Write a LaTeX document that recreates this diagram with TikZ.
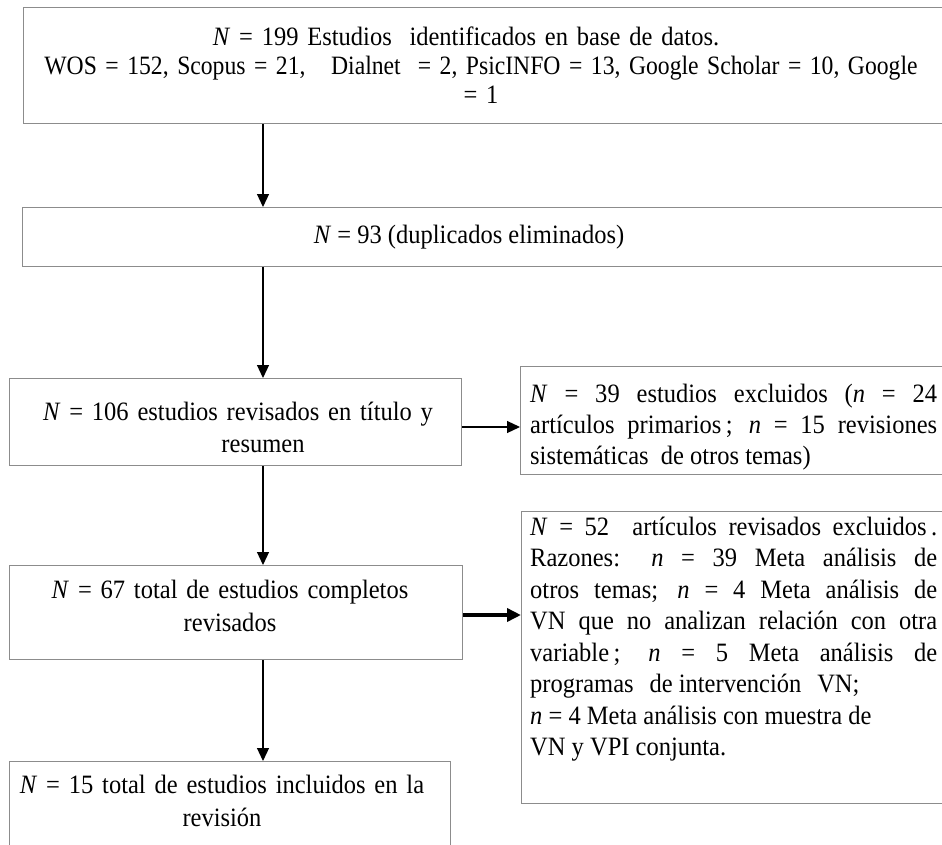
\documentclass[tikz,border=0pt]{standalone}
\usepackage{fontspec}
\usepackage{graphicx}
\setmainfont{Liberation Serif}[FakeStretch=0.925]
\usetikzlibrary{arrows.meta}
\definecolor{boxgray}{RGB}{140,140,140}
\begin{document}
\begin{tikzpicture}[x=1bp,y=-1bp,
  box/.style={draw=boxgray, line width=1.3bp, rectangle, inner sep=0pt, anchor=north west},
  txt/.style={inner sep=0pt, anchor=base, font=\fontsize{26.5bp}{32bp}\selectfont},
  jtxt/.style={inner sep=0pt, anchor=base west, text width=407bp, align=justify, font=\fontsize{26.5bp}{31.5bp}\selectfont},
  arr/.style={draw=black, line width=1.2bp, -{Triangle[length=13bp,width=12bp]}},
  thickarr/.style={draw=black, line width=4bp, -{Triangle[length=14bp,width=13bp]}}]
\useasboundingbox (0,0) rectangle (942,845);
\clip (0,0) rectangle (942,845);
\fill[white] (0,0) rectangle (942,845);
% boxes
\node[box, minimum width=937bp, minimum height=116bp] (b1) at (23,7) {};
\node[box, minimum width=938bp, minimum height=59bp] (b2) at (22,207) {};
\node[box, minimum width=452bp, minimum height=87bp] (b3) at (9,378) {};
\node[box, minimum width=440bp, minimum height=108bp] (b4) at (520,366) {};
\node[box, minimum width=453bp, minimum height=94bp] (b5) at (9,565) {};
\node[box, minimum width=439bp, minimum height=292bp] (b6) at (521,511) {};
\node[box, minimum width=441bp, minimum height=109bp] (b7) at (9,761) {};
% texts
\node[txt, text width=940bp, align=center, font=\fontsize{26.5bp}{29bp}\selectfont] (t1) at (481,45)
  {\hspace*{-30bp}\textit{N} = 199 Estudios\ \ identificados en base de datos.\\
   \scalebox{0.965}[1]{WOS = 152, Scopus = 21,\ \ \ Dialnet\ \ = 2, PsicINFO = 13, Google Scholar = 10, Google}\\
   = 1};
\node[txt] (t2) at (469,243) {\textit{N} = 93 (duplicados eliminados)};
\node[txt, text width=452bp, align=center] (t3) at (238,420)
  {\textit{N} = 106 estudios revisados en título y\\ \hspace*{50bp}resumen};
\node[jtxt, font=\fontsize{26.5bp}{31bp}\selectfont] (t4) at (530,402)
  {\textit{N} = 39 estudios excluidos (\textit{n} = 24\linebreak
   artículos primarios\,; \textit{n} = 15 revisiones\linebreak
   sistemáticas\ \ de otros temas)};
\node[txt, text width=453bp, align=center, font=\fontsize{26.5bp}{33bp}\selectfont] (t5) at (230,598)
  {\textit{N} = 67 total de estudios completos\\ revisados};
\node[jtxt] (t6) at (530,535)
  {\textit{N} = 52\ \ artículos revisados excluidos\,.\linebreak
   Razones: \textit{n} = 39 Meta análisis de\linebreak
   otros temas; \textit{n} = 4 Meta análisis de\linebreak
   VN que no analizan relación con otra\linebreak
   variable\,; \textit{n} = 5 Meta análisis de\linebreak
   programas\hskip0.6em de intervención\hskip0.6em VN;\\
   \textit{n} = 4 Meta análisis con muestra de\\
   VN y VPI conjunta.};
\node[txt, text width=441bp, align=center, font=\fontsize{26.5bp}{33bp}\selectfont] (t7) at (222,793)
  {\textit{N} = 15 total de estudios incluidos en la\\ revisión};
% connectors
\coordinate (vx) at (263,0);
\coordinate (h1) at (0,427);
\coordinate (h2) at (0,615);
\draw[arr] (b1.south -| vx) -- (b2.north -| vx);
\draw[arr] (b2.south -| vx) -- (b3.north -| vx);
\draw[arr] (b3.south -| vx) -- (b5.north -| vx);
\draw[arr] (b5.south -| vx) -- (b7.north -| vx);
\draw[arr] (b3.east |- h1) -- (b4.west |- h1);
\draw[thickarr] (b5.east |- h2) -- (b6.west |- h2);
\end{tikzpicture}
\end{document}
